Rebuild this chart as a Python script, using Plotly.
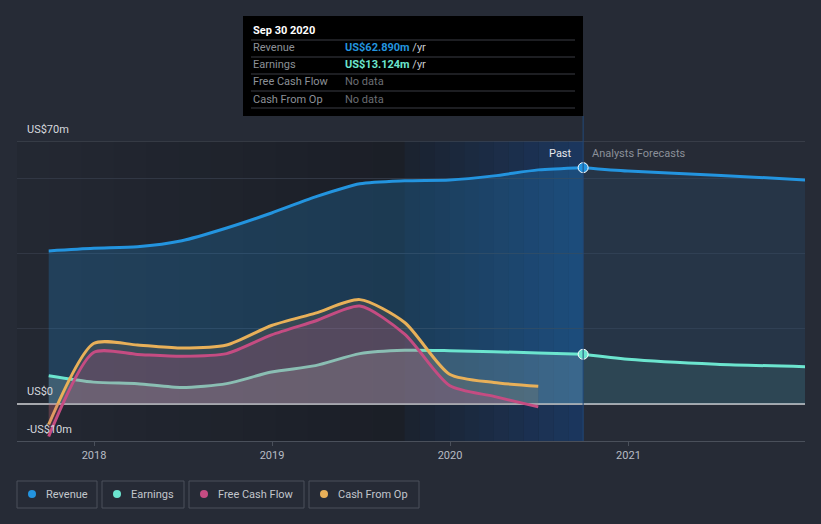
import plotly.graph_objects as go
import pandas as pd

# ---------------- data ----------------
past_dates = ["2017-09-30", "2017-12-31", "2018-03-31", "2018-06-30", "2018-09-30",
              "2018-12-31", "2019-03-31", "2019-06-30", "2019-09-30", "2019-12-31",
              "2020-03-31", "2020-06-30", "2020-09-30"]
revenue = [40.7, 41.4, 41.8, 43.4, 46.8, 50.8, 55.1, 58.6, 59.4, 59.6, 60.7, 62.3, 62.89]
earnings = [7.4, 5.7, 5.3, 4.3, 5.3, 8.4, 10.1, 13.3, 14.2, 14.1, 13.8, 13.5, 13.124]

cash_dates = past_dates[:12]
free_cash_flow = [-8.8, 13.6, 13.1, 12.6, 13.3, 18.3, 22.0, 26.0, 18.5, 4.8, 1.9, -0.9]
cash_from_op = [-5.6, 16.0, 15.6, 14.8, 15.6, 20.8, 24.1, 27.7, 21.6, 7.8, 5.6, 4.6]

fc_dates = ["2020-09-30", "2020-12-31", "2021-06-30", "2021-12-31"]
revenue_fc = [62.89, 62.0, 60.9, 59.6]
earnings_fc = [13.124, 11.8, 10.5, 9.8]

x_ticks = ["2018-01-01", "2019-01-01", "2020-01-01", "2021-01-01"]
x_tick_labels = ["2018", "2019", "2020", "2021"]
y_labels = {70: "US$70m", 0: "US$0", -10: "-US$10m"}

tooltip_title = "Sep 30 2020"
tooltip_rows = [("Revenue", "US$62.890m", " /yr"), ("Earnings", "US$13.124m", " /yr"),
                ("Free Cash Flow", "No data", ""), ("Cash From Op", "No data", "")]
legend_names = ["Revenue", "Earnings", "Free Cash Flow", "Cash From Op"]

# ---------------- style ----------------
C_REV = "#2394df"
C_EARN = "#6ce5cf"
C_FCF = "#c54c82"
C_CFO = "#e8b059"
BG = "#262b36"
SMOOTH = 0.7

W, H = 821, 524
L, R, T, B = 17, 16, 141, 83
PW, PH = W - L - R, H - T - B


def px(x):
    return (x - L) / PW


def py(y):
    return (H - B - y) / PH


def line(c):
    return dict(color=c, width=3, shape="spline", smoothing=SMOOTH)


fig = go.Figure()

fig.add_trace(go.Scatter(x=past_dates, y=revenue, mode="lines", line=line(C_REV),
                         fill="tozeroy", fillcolor="rgba(35,148,223,0.24)", hoverinfo="skip", showlegend=False))
fig.add_trace(go.Scatter(x=fc_dates, y=revenue_fc, mode="lines", line=line(C_REV),
                         fill="tozeroy", fillcolor="rgba(35,148,223,0.10)", hoverinfo="skip", showlegend=False))
fig.add_trace(go.Scatter(x=past_dates, y=earnings, mode="lines", line=line(C_EARN),
                         fill="tozeroy", fillcolor="rgba(170,200,200,0.22)", hoverinfo="skip", showlegend=False))
fig.add_trace(go.Scatter(x=fc_dates, y=earnings_fc, mode="lines", line=line(C_EARN),
                         fill="tozeroy", fillcolor="rgba(108,229,207,0.10)", hoverinfo="skip", showlegend=False))
fig.add_trace(go.Scatter(x=cash_dates, y=cash_from_op, mode="lines", line=line(C_CFO),
                         fill="tozeroy", fillcolor="rgba(232,176,89,0.12)", hoverinfo="skip", showlegend=False))
fig.add_trace(go.Scatter(x=cash_dates, y=free_cash_flow, mode="lines", line=line(C_FCF),
                         fill="tozeroy", fillcolor="rgba(197,76,130,0.22)", hoverinfo="skip", showlegend=False))

fig.add_trace(go.Scatter(x=[past_dates[-1]], y=[revenue[-1]], mode="markers",
                         marker=dict(color=C_REV, size=10, line=dict(color="white", width=1)),
                         hoverinfo="skip", showlegend=False))
fig.add_trace(go.Scatter(x=[past_dates[-1]], y=[earnings[-1]], mode="markers",
                         marker=dict(color=C_EARN, size=10, line=dict(color="white", width=1)),
                         hoverinfo="skip", showlegend=False))

shapes = []
start = pd.Timestamp("2017-07-27")
mid = pd.Timestamp(past_dates[8])
now = pd.Timestamp(past_dates[-1])
n = 12
for i in range(n):
    a = start + (mid - start) * i / n
    b = start + (mid - start) * (i + 1) / n
    shapes.append(dict(type="rect", xref="x", yref="paper", x0=a, x1=b, y0=0, y1=1, layer="below",
                       line=dict(width=0), fillcolor="rgba(0,0,0,%.3f)" % (0.06 + 0.22 * i / (n - 1))))
for i in range(n):
    a = mid + (now - mid) * i / n
    b = mid + (now - mid) * (i + 1) / n
    shapes.append(dict(type="rect", xref="x", yref="paper", x0=a, x1=b, y0=0, y1=1, layer="below",
                       line=dict(width=0), fillcolor="rgba(0,0,0,0.27)"))
    shapes.append(dict(type="rect", xref="x", yref="paper", x0=a, x1=b, y0=0, y1=1, layer="below",
                       line=dict(width=0), fillcolor="rgba(30,110,220,%.3f)" % (0.05 + 0.25 * i / (n - 1))))
shapes.append(dict(type="line", xref="paper", yref="y", x0=0, x1=1, y0=70, y1=70,
                   line=dict(color="#4a505b", width=1)))
shapes.append(dict(type="line", xref="x", yref="paper", x0=now, x1=now, y0=0, y1=py(116),
                   line=dict(color="#22497a", width=1)))

shapes.append(dict(type="rect", xref="paper", yref="paper", x0=px(243), x1=px(583), y0=py(116), y1=py(16),
                   fillcolor="black", line=dict(width=0)))
for yy in [40, 57, 74, 91, 108]:
    shapes.append(dict(type="line", xref="paper", yref="paper", x0=px(251), x1=px(575), y0=py(yy), y1=py(yy),
                       line=dict(color="#3a3d44", width=1)))

annotations = []
annotations.append(dict(xref="paper", yref="paper", x=px(251), y=py(31), text="<b>%s</b>" % tooltip_title,
                        showarrow=False, xanchor="left", yanchor="middle",
                        font=dict(color="white", size=11)))
val_colors = [C_REV, C_EARN, "#6b6e74", "#6b6e74"]
for i, (lab, val, unit) in enumerate(tooltip_rows):
    yy = 48 + 17 * i
    annotations.append(dict(xref="paper", yref="paper", x=px(251), y=py(yy), text=lab, showarrow=False,
                            xanchor="left", yanchor="middle", font=dict(color="#8c9097", size=11)))
    if unit:
        txt = "<b><span style='color:%s'>%s</span></b><span style='color:#c8cbd0'>%s</span>" % (val_colors[i], val, unit)
    else:
        txt = "<span style='color:%s'>%s</span>" % (val_colors[i], val)
    annotations.append(dict(xref="paper", yref="paper", x=px(343), y=py(yy), text=txt, showarrow=False,
                            xanchor="left", yanchor="middle", font=dict(size=11)))

for v, t in y_labels.items():
    annotations.append(dict(xref="paper", yref="y", x=px(25), y=v, yshift=12, text=t, showarrow=False,
                            xanchor="left", yanchor="middle", font=dict(color="#d6d9de", size=11)))

annotations.append(dict(xref="x", yref="paper", x=now, y=py(153), xshift=-9, text="Past", showarrow=False,
                        xanchor="right", yanchor="middle", font=dict(color="#e6e8ec", size=11)))
annotations.append(dict(xref="x", yref="paper", x=now, y=py(153), xshift=7, text="Analysts Forecasts",
                        showarrow=False, xanchor="left", yanchor="middle", font=dict(color="#8b9099", size=11)))

boxes = [(17, 97), (102, 184), (189, 304), (309, 419)]
colors = [C_REV, C_EARN, C_FCF, C_CFO]
for (x0, x1), c, name in zip(boxes, colors, legend_names):
    shapes.append(dict(type="rect", xref="paper", yref="paper", x0=px(x0), x1=px(x1), y0=py(508), y1=py(481),
                       line=dict(color="#4a505b", width=1), fillcolor="rgba(0,0,0,0)"))
    shapes.append(dict(type="circle", xref="paper", yref="paper", x0=px(x0 + 11), x1=px(x0 + 19),
                       y0=py(498), y1=py(490), line=dict(width=0), fillcolor=c))
    annotations.append(dict(xref="paper", yref="paper", x=px(x0 + 27), y=py(494), text=name, showarrow=False,
                            xanchor="left", yanchor="middle", font=dict(color="#c2c6cc", size=11)))

fig.update_layout(
    width=W, height=H, margin=dict(l=L, r=R, t=T, b=B),
    paper_bgcolor=BG, plot_bgcolor=BG,
    font=dict(family="Roboto, Open Sans, sans-serif"),
    shapes=shapes, annotations=annotations, showlegend=False, hovermode=False,
    xaxis=dict(type="date", range=["2017-07-27", "2021-12-29"], tickvals=x_ticks, ticktext=x_tick_labels,
               showgrid=False, zeroline=False, showline=True, linecolor="#4a505b", linewidth=1,
               ticks="outside", ticklen=4, tickcolor="#4a505b", fixedrange=True,
               tickfont=dict(color="#b8bcc4", size=11)),
    yaxis=dict(range=[-10, 70], tickvals=[20, 40, 60], showticklabels=False, gridcolor="#313744",
               zeroline=True, zerolinecolor="#a6a8ad", zerolinewidth=2, showline=False, fixedrange=True),
)

fig.write_html("out.html", config={"displayModeBar": False},
               post_script="document.body.style.margin='0px';document.body.style.background='%s';" % BG)
